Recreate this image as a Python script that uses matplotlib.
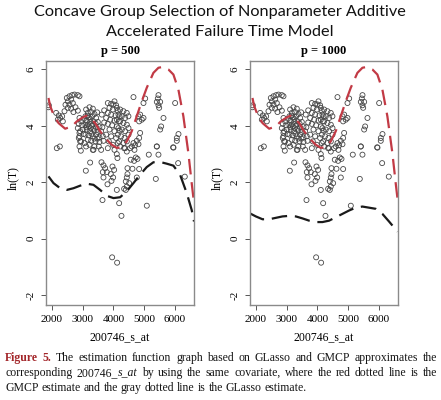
import numpy as np
import matplotlib.pyplot as plt

# expression of 200746_s_at vs ln(T) (same in both panels)
sample_points = [
    (1902, 4.73), (1890, 4.66), (2161, 3.21), (2259, 3.27),
    (2140, 4.46), (2226, 4.37), (2270, 4.28), (2194, 4.22), (2334, 4.34), (2356, 4.16),
    (2486, 4.99), (2572, 5.05), (2659, 5.09), (2735, 5.11), (2843, 5.09), (2897, 5.05),
    (2518, 4.87), (2627, 4.93), (2443, 4.75), (2572, 4.75), (2681, 4.81), (2518, 4.64),
    (2627, 4.61), (2767, 4.66), (2410, 4.52), (2702, 4.49), (2843, 4.54),
    (2897, 4.28), (2951, 4.16), (2875, 4.07), (2984, 4.02), (2843, 3.92), (3005, 3.87),
    (2897, 3.75), (3027, 3.71), (2875, 3.57), (2951, 3.45), (2897, 3.27), (3059, 3.39),
    (3113, 3.27), (2919, 3.81), (2897, 3.63), (2919, 3.45), (2940, 3.12),
    (3113, 4.58), (3222, 4.66), (3330, 4.61), (3168, 4.46), (3276, 4.49), (3384, 4.42),
    (3092, 4.34), (3200, 4.30), (3308, 4.34), (3438, 4.28), (3135, 4.18), (3243, 4.14),
    (3351, 4.16), (3492, 4.14), (3092, 4.04), (3200, 3.98), (3308, 4.02), (3438, 3.95),
    (3546, 3.98), (3135, 3.87), (3243, 3.81), (3384, 3.83), (3492, 3.78), (3600, 3.81),
    (3092, 3.69), (3200, 3.66), (3330, 3.63), (3438, 3.69), (3546, 3.59), (3654, 3.63),
    (3168, 3.51), (3276, 3.47), (3416, 3.45), (3546, 3.43), (3676, 3.47), (3222, 3.33),
    (3384, 3.27), (3524, 3.27), (3330, 3.15), (3600, 3.15), (3351, 3.15),
    (3170, 4.05), (3260, 3.92), (3350, 3.90), (3420, 4.08), (3040, 4.25), (3160, 4.36),
    (3290, 3.72), (3380, 3.55), (3480, 3.55), (3250, 4.24), (3120, 3.95), (3470, 4.48),
    (3817, 4.81), (3925, 4.78), (4033, 4.87), (4087, 4.73), (3871, 4.64), (3979, 4.58),
    (4141, 4.54), (3817, 4.46), (3925, 4.40), (4066, 4.37), (4195, 4.34), (3763, 4.28),
    (3893, 4.22), (4033, 4.19), (4174, 4.16), (3817, 4.07), (3958, 4.02), (4109, 3.98),
    (3871, 3.87), (4033, 3.81), (4195, 3.83), (3763, 3.69), (3925, 3.63), (4087, 3.57),
    (3849, 3.45), (3979, 3.33), (4141, 3.39), (3817, 3.21), (4033, 3.15), (4000, 4.76),
    (3700, 4.55), (3620, 4.40), (3700, 4.12), (3640, 3.95),
    (4109, 4.64), (4217, 4.58), (4325, 4.52), (4163, 4.40), (4271, 4.34), (4379, 4.28),
    (4109, 4.22), (4217, 4.16), (4325, 4.10), (4434, 4.04), (4163, 3.92), (4271, 3.87),
    (4379, 3.81), (4488, 3.92), (4141, 3.69), (4249, 3.63), (4358, 3.57), (4185, 3.45),
    (4325, 3.39), (4434, 3.45), (4488, 3.69), (4217, 3.27), (4379, 3.21), (4432, 4.46),
    (4486, 4.34),
    (4650, 5.02), (5462, 5.09), (5440, 4.97), (5408, 4.85), (5516, 4.85), (5462, 4.73),
    (5484, 4.64), (6003, 4.81), (5029, 4.97), (4975, 4.81), (5624, 4.28), (5548, 3.98),
    (5516, 3.87), (4866, 4.40), (4812, 4.34), (4975, 4.28), (4920, 4.22), (4834, 4.16),
    (4866, 3.75), (4834, 3.57), (4704, 3.31), (4650, 3.39), (4596, 3.27), (4542, 3.21),
    (4682, 3.15), (4758, 3.47), (4812, 3.35), (5408, 3.27), (5949, 3.23), (6111, 3.71),
    (6057, 3.57),
    (3243, 2.70), (3103, 2.41), (3611, 2.71), (3676, 2.60), (3730, 2.50), (3654, 2.36),
    (3784, 2.36), (3676, 2.17), (3968, 2.56), (4022, 2.44), (3914, 2.29), (3990, 2.17),
    (3936, 2.05), (3806, 1.93), (4130, 2.86), (4108, 3.00), (4347, 3.21), (4433, 3.09),
    (4563, 2.80), (4671, 2.76), (4725, 2.88), (4780, 2.83), (4455, 2.50), (4617, 2.48),
    (4834, 2.47), (4455, 2.29), (4433, 2.17), (4758, 2.17), (4401, 2.03), (4509, 1.97),
    (4433, 1.85), (4401, 1.73), (4347, 1.77), (4109, 1.73), (3644, 1.37), (4185, 1.26),
    (4260, 0.81), (5083, 1.17), (5407, 3.27), (5461, 2.98), (5147, 2.98), (5375, 2.12),
    (5937, 3.24), (6100, 2.68), (6316, 2.20), (6056, 3.47),
    (3957, -0.66), (4119, -0.85),
]
expr, log_t = np.array(sample_points).T

# GMCP estimate (red dashed), same shape in both panels
gmcp_x = [1890, 1946, 2054, 2216, 2432, 2649, 2810, 2973, 3113, 3243, 3405, 3567,
          3730, 3946, 4108, 4270, 4432, 4594, 4756, 4919, 5081, 5297, 5460, 5600,
          5784, 5946, 6108, 6270, 6432, 6540, 6616]
gmcp_y = [4.99, 4.70, 4.40, 4.10, 3.90, 3.98, 4.16, 4.28, 4.36, 4.28, 4.10, 3.81,
          3.57, 3.33, 3.22, 3.25, 3.45, 3.81, 4.34, 4.87, 5.35, 5.88, 6.06, 6.09,
          6.00, 5.82, 5.29, 4.34, 3.04, 1.97, 1.26]

# GLasso estimate (black dashed)
glasso500_x = [1890, 2054, 2270, 2486, 2703, 2919, 3135, 3351, 3567, 3784, 4000, 4216,
               4432, 4648, 4865, 5081, 5297, 5513, 5730, 5946, 6162, 6378, 6540, 6616]
glasso500_y = [2.21, 1.97, 1.79, 1.73, 1.79, 1.88, 1.95, 1.91, 1.73, 1.52, 1.44, 1.47,
               1.68, 1.97, 2.27, 2.54, 2.71, 2.72, 2.66, 2.59, 2.27, 1.62, 1.02, 0.61]
glasso1000_x = [1805, 2000, 2216, 2432, 2649, 2865, 3081, 3297, 3513, 3730, 3946, 4162,
                4378, 4594, 4811, 5027, 5243, 5459, 5676, 5892, 6108, 6324, 6600]
glasso1000_y = [0.90, 0.79, 0.69, 0.69, 0.74, 0.79, 0.81, 0.79, 0.72, 0.64, 0.59, 0.59,
                0.64, 0.76, 0.88, 1.00, 1.10, 1.14, 1.10, 1.06, 0.88, 0.61, 0.25]

panel_titles = ['p = 500', 'p = 1000']
x_ticks = [2000, 3000, 4000, 5000, 6000]
y_ticks = [-2, 0, 2, 4, 6]

title_lines = ['Concave Group Selection of Nonparameter Additive',
               'Accelerated Failure Time Model']

W, H = 441, 400
fig = plt.figure(figsize=(W / 100, H / 100), dpi=100)
renderer = fig.canvas.get_renderer()

def fx(px):
    return px / W

def fy(py):
    return 1 - py / H

serif = 'Liberation Serif'
red = '#c23a45'
axes_px = [(46, 194), (250, 398)]
glasso = [(glasso500_x, glasso500_y), (glasso1000_x, glasso1000_y)]

for i, (x0, x1) in enumerate(axes_px):
    ax = fig.add_axes([fx(x0), fy(305), (x1 - x0) / W, (305 - 61) / H])
    ax.scatter(expr, log_t, s=13, facecolors='none', edgecolors='#474747', linewidths=0.6)
    ax.plot(gmcp_x, gmcp_y, color=red, lw=1.6, dashes=(7, 3.5))
    ax.plot(glasso[i][0], glasso[i][1], color='#1a1a1a', lw=1.6, dashes=(7, 3.5))
    ax.set_xlim(1810, 6615)
    ax.set_ylim(-2.35, 6.3)
    ax.set_xticks(x_ticks)
    ax.set_xticklabels([str(v) for v in x_ticks], fontfamily=serif, fontsize=8)
    ax.set_yticks(y_ticks)
    ax.set_yticklabels([str(v) for v in y_ticks], fontfamily=serif, fontsize=8,
                       rotation=90, va='center')
    ax.tick_params(direction='out', length=3.5, width=0.7, color='#555555', pad=4)
    for sp in ax.spines.values():
        sp.set_color('#8a8a8a')
        sp.set_linewidth(1.0)
    xc = (x0 + x1) / 2
    fig.text(fx(xc), fy(51), panel_titles[i], ha='center', va='center',
             fontfamily=serif, fontweight='bold', fontsize=9)
    fig.text(fx(xc), fy(337), '200746_s_at', ha='center', va='center',
             fontfamily=serif, fontsize=8.5)
    fig.text(fx(x0 - 33), fy(178), 'ln(T)', ha='center', va='center', rotation=90,
             fontfamily=serif, fontsize=8.5)

# main title, sized so the first line spans the same width as in the picture
probe = fig.text(0, 0, title_lines[0], fontfamily='Lato', fontsize=10)
tsize = 10 * 373 / probe.get_window_extent(renderer).width
probe.remove()
for line, py in zip(title_lines, [12, 32]):
    fig.text(fx(220), fy(py), line, ha='center', va='center',
             fontfamily='Lato', fontsize=tsize, color='#111111')

# caption, justified
regular = dict(fontfamily=serif, color='#151515')
bold_red = dict(fontfamily=serif, fontweight='bold', color='#a3262a')
italic = dict(fontfamily=serif, style='italic', color='#151515')

def words(text, props=regular):
    return [[(w, props)] for w in text.split()]

cap_lines = [
    [[('Figure', bold_red)], [('5.', bold_red)]]
    + words('The estimation function graph based on GLasso and GMCP approximates the'),
    words('corresponding') + [[('200746_', regular), ('s_at', italic)]]
    + words('by using the same covariate, where the red dotted line is the'),
    words('GMCP estimate and the gray dotted line is the GLasso estimate.'),
]

probe = fig.text(0, 0, 'GMCP estimate and the gray dotted line is the GLasso estimate.',
                 fontsize=10, **regular)
csize = 10 * 303 / probe.get_window_extent(renderer).width
probe.remove()
space = csize * 0.25 * 100 / 72

for li, (line, py) in enumerate(zip(cap_lines, [358, 373, 388])):
    placed = []
    for word in line:
        parts = []
        for txt, props in word:
            t = fig.text(0, fy(py), txt, fontsize=csize, va='center', ha='left', **props)
            parts.append((t, t.get_window_extent(renderer).width))
        placed.append(parts)
    widths = [sum(w for _, w in parts) for parts in placed]
    if li < len(cap_lines) - 1:
        gap = (432 - sum(widths)) / (len(placed) - 1)
    else:
        gap = space
    x = 5
    for parts, w in zip(placed, widths):
        xx = x
        for t, pw in parts:
            t.set_x(fx(xx))
            xx += pw
        x += w + gap

fig.savefig('out.png', dpi=100)
